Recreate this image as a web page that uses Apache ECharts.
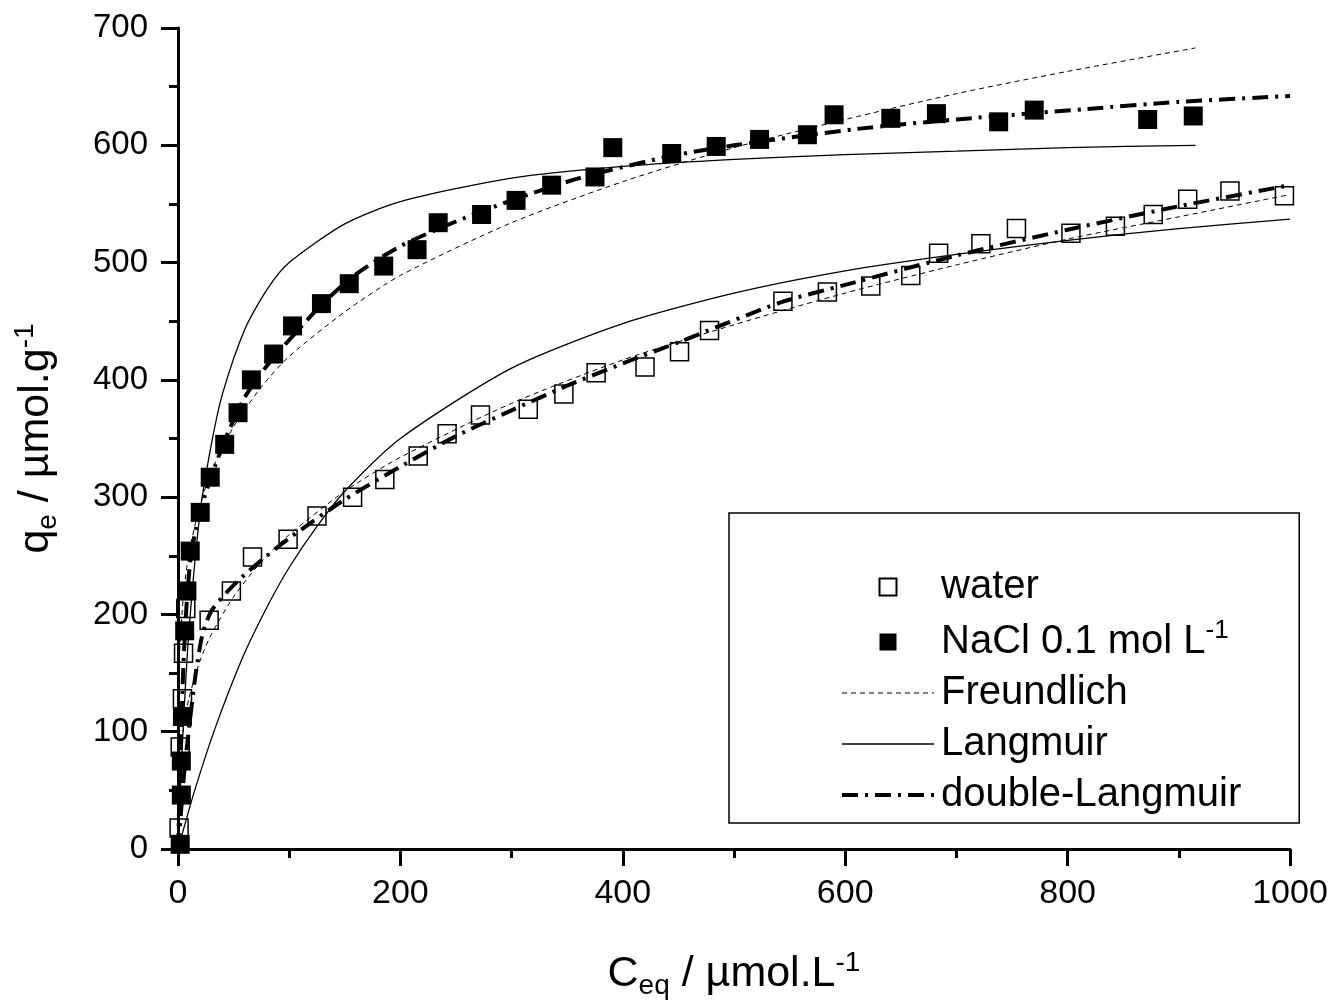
<!DOCTYPE html>
<html>
<head>
<meta charset="utf-8">
<title>Isotherms</title>
<script src="https://cdn.jsdelivr.net/npm/echarts@6/dist/echarts.min.js"></script>
<style>
    html, body { margin: 0; padding: 0; background: #fff; }
    #Chart { width: 1343px; height: 1008px; }
</style>
</head>
<body>
<div id="Chart"></div>
<script>
//measured points, water
var waterC = [1, 2, 4, 5, 7, 28, 48, 67, 99, 125, 157, 186, 216, 242, 272, 315, 347, 376, 420, 451, 478, 544, 584, 623, 659, 684, 722, 754, 803, 843, 877, 908, 946, 995];
var waterQ = [18, 87, 128, 167, 205, 195, 220, 249, 264, 284, 300, 315, 335, 354, 370, 375, 388, 406, 411, 424, 442, 467, 475, 480, 489, 508, 516, 529, 525, 531, 541, 554, 561, 557];
//measured points, NaCl 0.1 mol/L
var naclC = [2, 3, 3, 4, 6, 8, 11, 20, 29, 42, 54, 66, 86, 103, 129, 154, 185, 215, 234, 273, 304, 336, 375, 391, 444, 484, 523, 566, 590, 641, 682, 738, 770, 872, 913];
var naclQ = [4, 46, 75, 113, 186, 220, 254, 287, 317, 345, 372, 400, 422, 446, 465, 482, 497, 511, 534, 541, 553, 566, 573, 598, 593, 599, 605, 609, 626, 623, 627, 620, 630, 622, 625];

//fitted curves [C, q]
var naclFreundlich = [[0, 0], [0.02, 65], [0.2, 106], [1, 152], [2, 177], [5, 217], [10, 253], [20, 294], [30, 322], [50, 360], [75, 394], [100, 420], [150, 458], [200, 489], [300, 534], [400, 569], [500, 598], [600, 622], [700, 644], [800, 663], [915, 683]];
var naclLangmuir = [[0, 0], [2, 48], [5, 110], [10, 188], [20, 288], [30, 345], [40, 388], [60, 443], [80, 477], [100, 500], [150, 533], [200, 552], [300, 572], [400, 582], [500, 588], [600, 592], [700, 595], [800, 598], [915, 600]];
var naclDouble = [[0, 0], [2, 70], [4, 135], [6, 180], [8, 212], [11, 245], [15, 268], [20, 288], [30, 318], [45, 355], [60, 385], [80, 412], [100, 434], [130, 465], [160, 490], [200, 514], [250, 535], [300, 553], [361, 572], [444, 591], [500, 600], [611, 614], [700, 622], [818, 631], [900, 637], [1000, 642]];
var waterFreundlich = [[0, 0], [0.1, 30], [1, 62], [5, 103], [10, 129], [20, 161], [30, 183], [50, 215], [75, 245], [100, 268], [150, 305], [200, 334], [300, 380], [400, 417], [500, 447], [600, 474], [700, 498], [800, 520], [900, 539], [1000, 558]];
var waterLangmuir = [[0, 0], [5, 17], [15, 50], [33, 102], [58, 163], [81, 208], [100, 240], [125, 275], [150, 305], [200, 350], [300, 410], [400, 448], [500, 474], [600, 493], [700, 507], [800, 519], [900, 529], [1000, 537]];
var waterDouble = [[0, 0], [3, 35], [6, 70], [9, 95], [12, 120], [16, 150], [22, 183], [30, 203], [45, 220], [60, 234], [80, 250], [100, 265], [150, 298], [200, 326], [250, 352], [300, 374], [350, 395], [400, 414], [450, 432], [542, 466], [600, 481], [700, 506], [800, 528], [900, 548], [1000, 566]];

var font = 'Liberation Sans, Arial, sans-serif';
var squareIcon = 'path://M0,0L10,0L10,10L0,10Z';

//zip two arrays into points
function zip(xs, ys) {
    var out = [];
    for (var i = 0; i < xs.length; i++) {
        out.push([xs[i], ys[i]]);
    }
    return out;
}

//rich styles for sub/superscripts
function richText(size) {
    var small = Math.round(size * 0.65);
    return {
        m: { fontSize: size, fontFamily: font, color: '#000', lineHeight: size + 8, verticalAlign: 'middle' },
        sub: { fontSize: small, fontFamily: font, color: '#000', lineHeight: small, verticalAlign: 'bottom' },
        sup: { fontSize: small, fontFamily: font, color: '#000', lineHeight: small, verticalAlign: 'top' }
    };
}

var freundlichStyle = { color: '#000', width: 1, type: [5, 4] };
var langmuirStyle = { color: '#000', width: 1.3, type: 'solid' };
var doubleStyle = { color: '#000', width: 4, type: [16, 7, 3, 7] };

function curve(name, data, style) {
    return {
        name: name,
        type: 'line',
        data: data,
        symbol: 'none',
        smooth: 0.25,
        lineStyle: style,
        itemStyle: { color: '#000' },
        silent: true,
        z: 2
    };
}

//legend entries: lines get no marker, points get a square
var legendData = [
    { name: 'water', icon: squareIcon },
    { name: 'NaCl 0.1 mol L-1', icon: squareIcon },
    { name: 'Freundlich', itemStyle: { opacity: 0 }, lineStyle: freundlichStyle },
    { name: 'Langmuir', itemStyle: { opacity: 0 }, lineStyle: langmuirStyle },
    { name: 'double-Langmuir', itemStyle: { opacity: 0 }, lineStyle: doubleStyle }
];

var chart = echarts.init(document.getElementById('Chart'));
var option = {
    animation: false,
    backgroundColor: '#fff',
    grid: { left: 178, right: 53, top: 28, bottom: 159, outerBoundsMode: 'none', containLabel: false },
    legend: {
        data: legendData,
        orient: 'vertical',
        left: 729,
        top: 513,
        padding: [54, 58, 8, 111],
        itemGap: 11,
        itemWidth: 92,
        itemHeight: 17,
        symbolKeepAspect: true,
        borderColor: '#000',
        borderWidth: 1.5,
        selectedMode: false,
        textStyle: {
            fontSize: 40,
            fontFamily: font,
            color: '#000',
            padding: [0, 0, 0, 2],
            rich: richText(40)
        },
        formatter: function (name) {
            if (name === 'NaCl 0.1 mol L-1') {
                return '{m|NaCl 0.1 mol L}{sup|-1}';
            }
            return '{m|' + name + '}';
        }
    },
    xAxis: {
        type: 'value',
        min: 0,
        max: 1000,
        interval: 200,
        name: '{m|C}{sub|eq}{m| / µmol.L}{sup|-1}',
        nameLocation: 'middle',
        nameGap: 100,
        nameTextStyle: { rich: richText(43) },
        axisLine: { lineStyle: { color: '#000', width: 3 } },
        axisTick: { inside: false, length: 17, lineStyle: { width: 3, color: '#000' } },
        minorTick: { show: true, splitNumber: 2, length: 9, lineStyle: { width: 3, color: '#000' } },
        axisLabel: {
            fontSize: 34, fontFamily: font, color: '#000', margin: 28,
            formatter: function (v) { return String(v); }
        },
        splitLine: { show: false }
    },
    yAxis: {
        type: 'value',
        min: 0,
        max: 700,
        interval: 100,
        name: '{m|q}{sub|e}{m| / µmol.g}{sup|-1}',
        nameLocation: 'middle',
        nameRotate: 90,
        nameGap: 116,
        nameTextStyle: { rich: richText(43) },
        axisLine: { lineStyle: { color: '#000', width: 3 } },
        axisTick: { inside: false, length: 17, lineStyle: { width: 3, color: '#000' } },
        minorTick: { show: true, splitNumber: 2, length: 9, lineStyle: { width: 3, color: '#000' } },
        axisLabel: { fontSize: 33, fontFamily: font, color: '#000', margin: 30 },
        splitLine: { show: false }
    },
    series: [
        curve('Freundlich', naclFreundlich, freundlichStyle),
        curve('Freundlich', waterFreundlich, freundlichStyle),
        curve('Langmuir', naclLangmuir, langmuirStyle),
        curve('Langmuir', waterLangmuir, langmuirStyle),
        curve('double-Langmuir', naclDouble, doubleStyle),
        curve('double-Langmuir', waterDouble, doubleStyle),
        {
            name: 'water',
            type: 'scatter',
            data: zip(waterC, waterQ),
            symbol: 'rect',
            symbolSize: 18,
            itemStyle: { color: 'rgba(255,255,255,0)', borderColor: '#000', borderWidth: 1.5, opacity: 1 },
            z: 3
        },
        {
            name: 'NaCl 0.1 mol L-1',
            type: 'scatter',
            data: zip(naclC, naclQ),
            symbol: 'rect',
            symbolSize: 19,
            itemStyle: { color: '#000', opacity: 1 },
            z: 4
        }
    ]
};
chart.setOption(option);
</script>
</body>
</html>
